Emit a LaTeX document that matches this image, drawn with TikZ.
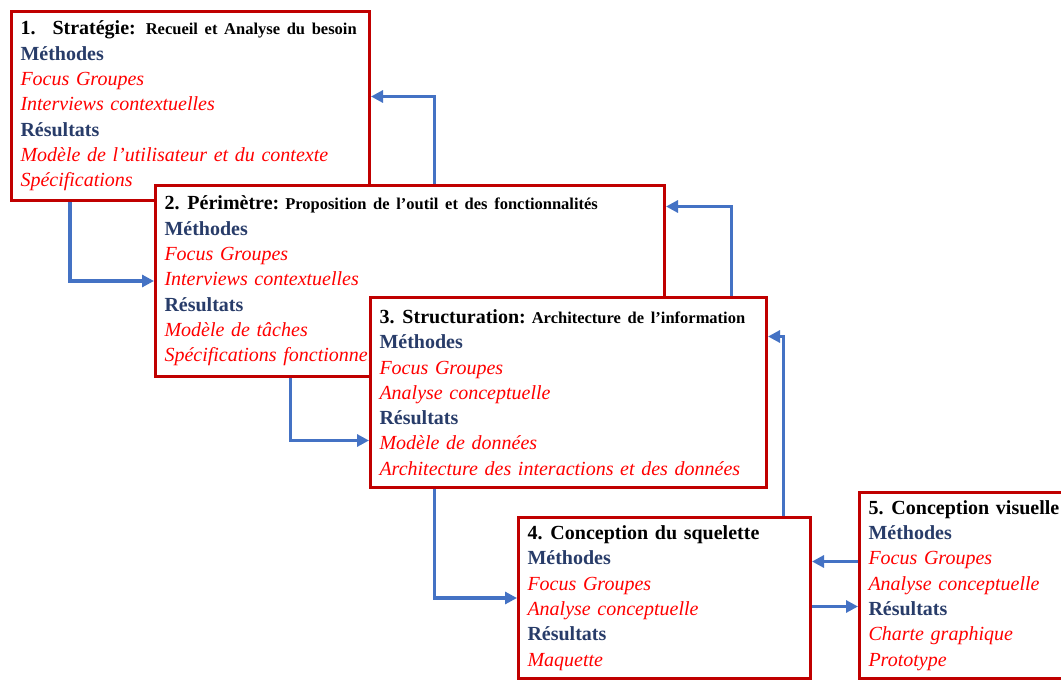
\documentclass[tikz,border=0pt]{standalone}
\usepackage{fontspec}
\setmainfont{Liberation Serif}
\usepackage{xcolor}
\usepackage{tikz}
\usetikzlibrary{arrows.meta,positioning,calc}
\definecolor{boxred}{RGB}{192,0,0}
\definecolor{flowblue}{RGB}{68,114,196}
\definecolor{headblue}{RGB}{40,60,105}
\definecolor{itemred}{RGB}{255,0,0}
\newcommand{\stagehead}[1]{{\bfseries\color{headblue}#1}}
\newcommand{\stageitem}[1]{{\itshape\color{itemred}#1}}
\newcommand{\stagesub}[1]{{\fontsize{16.5pt}{20pt}\selectfont #1}}
\tikzset{
  >={Triangle[length=12pt,width=12pt]},
  stage/.style={draw=boxred, line width=3pt, fill=white, anchor=north west, align=left,
    inner xsep=9pt, inner ysep=4pt, font=\fontsize{20pt}{25.3pt}\selectfont},
  flow/.style={color=flowblue, line width=3.4pt, ->},
}

\begin{document}
\begin{tikzpicture}[x=1pt, y=-1pt]
  \clip (0,0) rectangle (1061,680);
  \fill[white] (0,0) rectangle (1061,680);

  \node[stage, text width=340pt, minimum height=189pt] (strat) at (10,10)
    {\textbf{1.\hspace{17pt}Stratégie: \stagesub{Recueil et Analyse du besoin}}\\
     \stagehead{Méthodes}\\
     \stageitem{Focus Groupes}\\
     \stageitem{Interviews contextuelles}\\
     \stagehead{Résultats}\\
     \stageitem{Modèle de l’utilisateur et du contexte}\\
     \stageitem{Spécifications}};
  \node[stage, text width=491pt, minimum height=191pt] (perim) at (154,184)
    {\textbf{2.\hspace{0.4em}Périmètre:\hspace{0.3em}\stagesub{Proposition de l’outil et des fonctionnalités}}\\
     \stagehead{Méthodes}\\
     \stageitem{Focus Groupes}\\
     \stageitem{Interviews contextuelles}\\
     \stagehead{Résultats}\\
     \stageitem{Modèle de tâches}\\
     \stageitem{Spécifications fonctionnelles}};
  \node[stage, text width=378pt, minimum height=190pt] (struct) at (369,296)
    {\textbf{3.\hspace{0.4em}Structuration:\hspace{0.3em}\stagesub{Architecture de l’information}}\\
     \stagehead{Méthodes}\\
     \stageitem{Focus Groupes}\\
     \stageitem{Analyse conceptuelle}\\
     \stagehead{Résultats}\\
     \stageitem{Modèle de données}\\
     \stageitem{Architecture des interactions et des données}};
  \node[stage, text width=274pt, minimum height=161pt] (squel) at (517,516)
    {\textbf{4.\hspace{0.4em}Conception du squelette}\\
     \stagehead{Méthodes}\\
     \stageitem{Focus Groupes}\\
     \stageitem{Analyse conceptuelle}\\
     \stagehead{Résultats}\\
     \stageitem{Maquette}};
  \node[stage, text width=240pt, minimum height=186pt] (visu) at (858,491)
    {\textbf{5.\hspace{0.4em}Conception visuelle}\\
     \stagehead{Méthodes}\\
     \stageitem{Focus Groupes}\\
     \stageitem{Analyse conceptuelle}\\
     \stagehead{Résultats}\\
     \stageitem{Charte graphique}\\
     \stageitem{Prototype}};

  \draw[flow] ([xshift=60pt]strat.south west) |- (perim.west);
  \draw[flow] ([xshift=24.5pt]perim.north) |- ([yshift=9.5pt]strat.east);
  \draw[flow] ([xshift=-119.5pt]perim.south) |- ([yshift=-48pt]struct.west);
  \draw[flow] ([xshift=163pt]struct.north) |- ([yshift=74.5pt]perim.east);
  \draw[flow] ([xshift=-134pt]struct.south) |- (squel.west);
  \draw[flow] ([xshift=119pt]squel.north) |- ([yshift=56pt]struct.east);
  \draw[flow] ([yshift=36.5pt]squel.east -| visu.west) -- ([yshift=36.5pt]squel.east);
  \draw[flow] ([yshift=-8.5pt]squel.east) -- ([yshift=-8.5pt]squel.east -| visu.west);
\end{tikzpicture}
\end{document}
